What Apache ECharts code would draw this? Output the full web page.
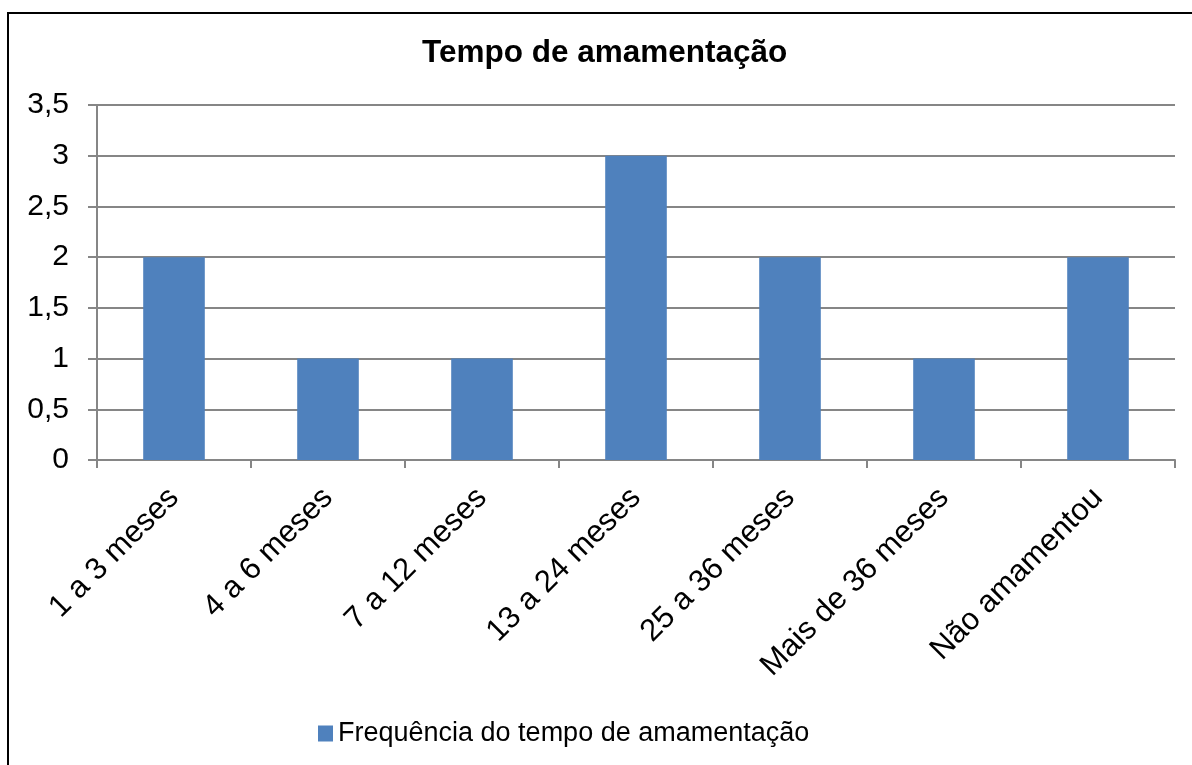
<!DOCTYPE html>
<html>
<head>
<meta charset="utf-8">
<script src="https://cdn.jsdelivr.net/npm/echarts@6/dist/echarts.min.js"></script>
<style>
  html, body { margin: 0; padding: 0; background: #fff; }
  #chart { width: 1192px; height: 765px; }
</style>
</head>
<body>
<div id="chart"></div>
<script>
const categories = ['1 a 3 meses', '4 a 6 meses', '7 a 12 meses', '13 a 24 meses', '25 a 36 meses', 'Mais de 36 meses', 'Não amamentou']
const frequencia = [2, 1, 1, 3, 2, 1, 2]
const seriesName = 'Frequência do tempo de amamentação'

const font = 'Arial, "Liberation Sans", sans-serif'
const gridColor = '#868686'

const chart = echarts.init(document.getElementById('chart'))
chart.setOption({
  animation: false,
  title: {
    text: 'Tempo de amamentação',
    left: 417,
    top: 32,
    textStyle: { fontFamily: font, fontSize: 31.5, fontWeight: 'bold', color: '#000' }
  },
  legend: {
    data: [seriesName],
    left: 313,
    bottom: 13,
    icon: 'rect',
    itemWidth: 15,
    itemHeight: 16,
    itemGap: 6,
    textStyle: { fontFamily: font, fontSize: 27, color: '#000', padding: [0, 0, 0, 0] }
  },
  grid: { left: 97, right: 17, top: 105, bottom: 305, containLabel: false },
  xAxis: {
    type: 'category',
    data: categories,
    axisLine: { lineStyle: { color: gridColor, width: 2 } },
    axisTick: { show: true, length: 8, alignWithLabel: false, lineStyle: { color: gridColor, width: 2 } },
    axisLabel: { rotate: 45, margin: 33, fontFamily: font, fontSize: 31, color: '#000', interval: 0 }
  },
  yAxis: {
    type: 'value',
    min: 0,
    max: 3.5,
    interval: 0.5,
    axisLine: { show: true, lineStyle: { color: gridColor, width: 2 } },
    axisTick: { show: true, length: 9, lineStyle: { color: gridColor, width: 2 } },
    splitLine: { show: true, lineStyle: { color: gridColor, width: 2 } },
    axisLabel: {
      margin: 28,
      fontFamily: font,
      fontSize: 30,
      color: '#000',
      formatter: v => String(v).replace('.', ',')
    }
  },
  series: [{
    name: seriesName,
    type: 'bar',
    data: frequencia,
    barWidth: '40%',
    itemStyle: { color: '#4F81BD' }
  }],
  graphic: [{
    type: 'rect',
    shape: { x: 8, y: 13, width: 1300, height: 900 },
    style: { fill: null, stroke: '#000', lineWidth: 2 },
    silent: true
  }]
})
</script>
</body>
</html>
